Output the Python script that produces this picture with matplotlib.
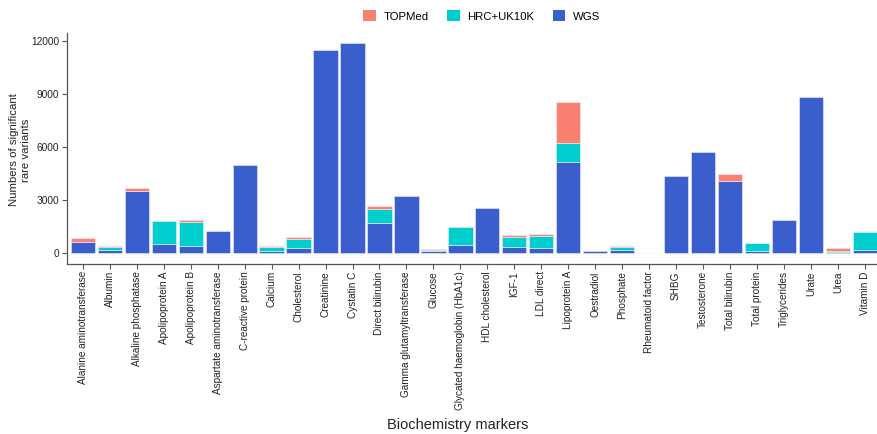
import matplotlib.pyplot as plt
import numpy as np
from matplotlib.patches import Patch

# --- Data: significant rare variants per biochemistry marker ---
markers = [
    "Alanine aminotransferase", "Albumin", "Alkaline phosphatase", "Apolipoprotein A",
    "Apolipoprotein B", "Aspartate aminotransferase", "C-reactive protein", "Calcium",
    "Cholesterol", "Creatinine", "Cystatin C", "Direct bilirubin",
    "Gamma glutamyltransferase", "Glucose", "Glycated haemoglobin (HbA1c)", "HDL cholesterol",
    "IGF-1", "LDL direct", "Lipoprotein A", "Oestradiol",
    "Phosphate", "Rheumatoid factor", "SHBG", "Testosterone",
    "Total bilirubin", "Total protein", "Triglycerides", "Urate",
    "Urea", "Vitamin D",
]
wgs = [650, 150, 3530, 520, 410, 1270, 5000, 110, 270, 11500,
       11850, 1680, 3240, 110, 430, 2540, 320, 300, 5160, 90,
       170, 15, 4370, 5690, 4090, 130, 1880, 8830, 60, 170]
hrc_uk10k = [0, 200, 0, 1300, 1320, 0, 0, 230, 540, 0,
             0, 810, 0, 60, 1040, 0, 580, 640, 1040, 0,
             150, 0, 0, 0, 0, 430, 0, 0, 70, 1000]
topmed = [190, 50, 140, 0, 150, 0, 0, 60, 80, 0,
          0, 170, 0, 60, 0, 0, 110, 130, 2350, 0,
          75, 0, 0, 0, 360, 15, 0, 0, 130, 0]

COLORS = {"TOPMed": "#FA8072", "HRC+UK10K": "#00CDCD", "WGS": "#3A5FCD"}
AXIS_GREY = "#555555"

plt.rcParams["font.family"] = ["Liberation Sans", "DejaVu Sans"]

fig = plt.figure(figsize=(8.78, 4.34), dpi=100)
W, H = 878, 434
ax = fig.add_axes([66.7 / W, 1 - 263.5 / H, (881 - 66.7) / W, (263.5 - 33) / H])

x = np.arange(len(markers))
wgs = np.array(wgs)
hrc_uk10k = np.array(hrc_uk10k)
topmed = np.array(topmed)

# stack WGS -> HRC+UK10K -> TOPMed, skipping empty segments
bottom = np.zeros(len(markers))
for name, vals in [("WGS", wgs), ("HRC+UK10K", hrc_uk10k), ("TOPMed", topmed)]:
    keep = vals > 0
    ax.bar(x[keep], vals[keep], bottom=bottom[keep], width=0.9,
           color=COLORS[name], edgecolor="#EEF2FA", linewidth=0.4)
    bottom = bottom + vals

# ggplot-like expansion of the scales
totals = bottom
pad = totals.max() * 0.05
ax.set_ylim(-pad, totals.max() + pad)
ax.set_xlim(-0.6, len(markers) - 0.4)

ax.set_yticks([0, 3000, 6000, 9000, 12000])
ax.set_xticks(x)
ax.set_xticklabels(markers, rotation=90, ha="center", va="top")

for side in ["top", "right"]:
    ax.spines[side].set_visible(False)
for side in ["left", "bottom"]:
    ax.spines[side].set_color(AXIS_GREY)
    ax.spines[side].set_linewidth(0.9)

ax.tick_params(axis="both", colors=AXIS_GREY, length=3.5, width=0.8,
               labelsize=7.3, labelcolor="#222222", pad=2)
ax.tick_params(axis="x", labelsize=7.2)

fig.text(20 / W, 1 - 150 / H, "Numbers of significant\nrare variants",
         rotation=90, ha="center", va="center", multialignment="center",
         fontsize=8.2, color="#222222")
fig.text(458 / W, 1 - 425 / H, "Biochemistry markers",
         ha="center", va="center", fontsize=10.5, color="#222222")

handles = [Patch(facecolor=COLORS[k], edgecolor="none", label=k)
           for k in ["TOPMed", "HRC+UK10K", "WGS"]]
fig.legend(handles=handles, loc="center", bbox_to_anchor=(482 / W, 1 - 16 / H),
           ncol=3, frameon=False, fontsize=8.2, handlelength=1.1, handleheight=1.1,
           handletextpad=0.7, columnspacing=1.6)

fig.savefig("out.png", dpi=100)
